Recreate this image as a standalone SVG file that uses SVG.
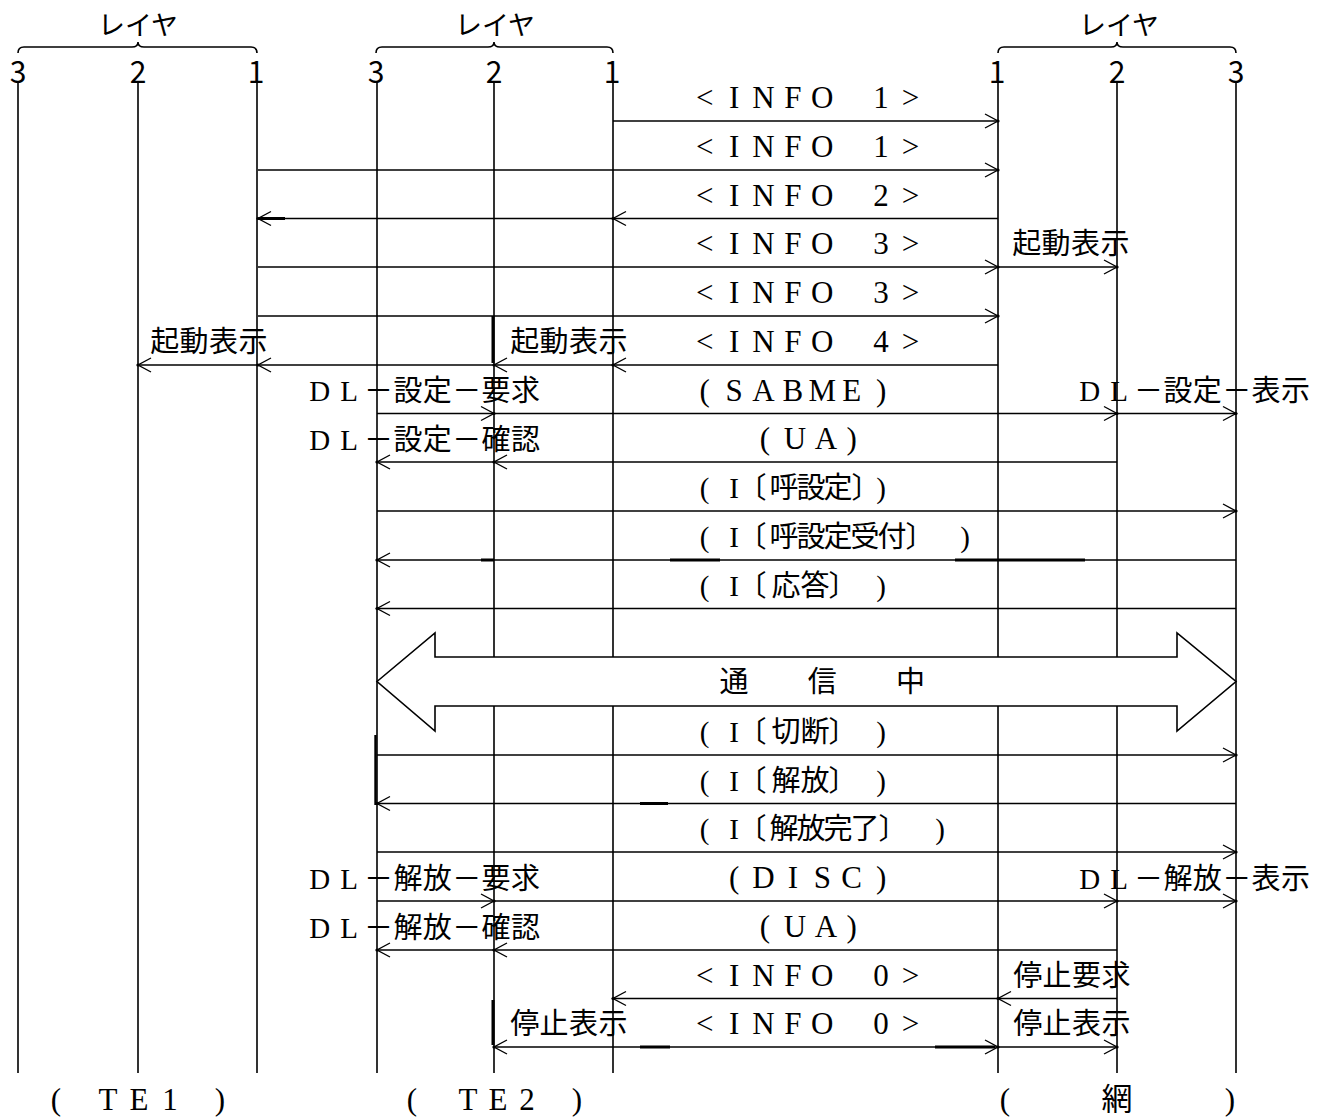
<svg xmlns="http://www.w3.org/2000/svg" width="1324" height="1120" viewBox="0 0 1324 1120">
<style>
.l{stroke:#000;stroke-width:1.6;fill:none}
.k{stroke:#000;stroke-width:3;fill:none}
.a{marker-end:url(#ah)}
text{font-family:"Liberation Serif","Noto Sans CJK JP",serif;font-size:29px;fill:#000;text-anchor:middle}
.b{font-size:31px}
.g{font-family:"Noto Sans CJK JP","Liberation Sans",sans-serif}
.d{font-family:"Noto Sans CJK JP","Liberation Sans",sans-serif;font-size:30px}
.h{font-family:"Noto Sans CJK JP",sans-serif;font-size:27px}
</style>
<defs>
<marker id="ah" markerUnits="userSpaceOnUse" viewBox="-15 -9 17 18" markerWidth="17" markerHeight="18" refX="0" refY="0" orient="auto">
<path d="M-13,-7 L0,0 L-13,7" fill="none" stroke="#000" stroke-width="1.4"/>
<circle cx="0" cy="0" r="1.6" fill="#000"/>
</marker>
</defs>
<rect width="1324" height="1120" fill="#fff"/>

<g id="te1">
<text class="h" x="138" y="35">レイヤ</text>
<path class="l" d="M18,53 Q18,47 24,47 H132 Q138,47 138,42 Q138,47 144,47 H251 Q257,47 257,53"/>
<text class="d" x="18" y="83">3</text>
<text class="d" x="138" y="83">2</text>
<text class="d" x="256" y="83">1</text>
<path class="l" d="M18,83 V1073 M138,83 V1073 M257,83 V1073"/>
<text class="b" x="56 85 108 139 170 195 220" y="1110">( TE1 )</text>
</g>

<g id="te2">
<text class="h" x="495" y="35">レイヤ</text>
<path class="l" d="M376,53 Q376,47 382,47 H488 Q494,47 494,42 Q494,47 500,47 H607 Q613,47 613,53"/>
<text class="d" x="376" y="83">3</text>
<text class="d" x="494" y="83">2</text>
<text class="d" x="612" y="83">1</text>
<path class="l" d="M377,83 V1073 M494,83 V1073 M613,83 V1073"/>
<text class="b" x="412 441 468 498 527 552 577" y="1110">( TE2 )</text>
</g>

<g id="net">
<text class="h" x="1119" y="35">レイヤ</text>
<path class="l" d="M998,53 Q998,47 1004,47 H1111 Q1117,47 1117,42 Q1117,47 1123,47 H1230 Q1236,47 1236,53"/>
<text class="d" x="997" y="83">1</text>
<text class="d" x="1117" y="83">2</text>
<text class="d" x="1236" y="83">3</text>
<path class="l" d="M998,83 V1073 M1117,83 V1073 M1236,83 V1073"/>
<text class="b" x="1005 1061 1117 1173 1230" y="1110">( 網 )</text>
</g>

<g id="connectors">
<path class="l a" d="M613,121 H998"/>
<path class="l a" d="M258,170 H998"/>
<path class="l a" d="M998,218.5 H613"/>
<path class="l a" d="M613,218.5 H258"/>
<path class="l a" d="M258,267 H998"/>
<path class="l a" d="M998,267 H1117"/>
<path class="l a" d="M258,316 H998"/>
<path class="l a" d="M998,365 H613"/>
<path class="l a" d="M613,365 H494"/>
<path class="l a" d="M494,365 H258"/>
<path class="l a" d="M258,365 H138"/>
<path class="l a" d="M377,413.5 H494"/>
<path class="l a" d="M494,413.5 H1117"/>
<path class="l a" d="M1117,413.5 H1236"/>
<path class="l a" d="M1117,462 H494"/>
<path class="l a" d="M494,462 H377"/>
<path class="l a" d="M377,511 H1236"/>
<path class="l a" d="M1236,560 H377"/>
<path class="l a" d="M1236,608.5 H377"/>
<path class="l a" d="M377,755 H1236"/>
<path class="l a" d="M1236,803.5 H377"/>
<path class="l a" d="M377,852 H1236"/>
<path class="l a" d="M377,901 H494"/>
<path class="l a" d="M494,901 H1117"/>
<path class="l a" d="M1117,901 H1236"/>
<path class="l a" d="M1117,950 H494"/>
<path class="l a" d="M494,950 H377"/>
<path class="l a" d="M1117,998.5 H998"/>
<path class="l a" d="M998,998.5 H613"/>
<path class="l a" d="M613,1047 H494"/>
<path class="l a" d="M613,1047 H998"/>
<path class="l a" d="M998,1047 H1117"/>
<path class="k" d="M260,218.5 H285 M493,316 V363 M481,560 H494 M670,560 H720 M955,560 H1085 M640,803.5 H668 M493,1000 V1045 M640,1047 H670 M935,1047 H995"/>
<path d="M375.5,735 V805" stroke="#000" stroke-width="2.4"/>
<polygon id="comm" points="377,681.5 435,633 435,657 1177,657 1177,633 1236,681.5 1177,731 1177,706 435,706 435,731" fill="#fff" stroke="#000" stroke-width="1.6"/>
</g>

<g id="labels">
<text class="b" x="704.7 734.1 763.5 792.9 822.3 851.7 881.1 910.5" y="108">&lt;INFO 1&gt;</text>
<text class="b" x="704.7 734.1 763.5 792.9 822.3 851.7 881.1 910.5" y="157">&lt;INFO 1&gt;</text>
<text class="b" x="704.7 734.1 763.5 792.9 822.3 851.7 881.1 910.5" y="205.5">&lt;INFO 2&gt;</text>
<text class="b" x="704.7 734.1 763.5 792.9 822.3 851.7 881.1 910.5" y="254">&lt;INFO 3&gt;</text>
<text class="b" x="704.7 734.1 763.5 792.9 822.3 851.7 881.1 910.5" y="303">&lt;INFO 3&gt;</text>
<text class="b" x="704.7 734.1 763.5 792.9 822.3 851.7 881.1 910.5" y="352">&lt;INFO 4&gt;</text>
<text class="b" x="704.7 734.1 763.5 792.9 822.3 851.7 881.1" y="400.5">(SABME)</text>
<text class="b" x="765 795 826 851.7" y="449">(UA)</text>
<text x="704.7 734.1 752 784 811 838 866 881" y="498">(I〔呼設定〕)</text>
<text x="704.7 734.1 752 784 811 838 865 892 920 965" y="547">(I〔呼設定受付〕)</text>
<text x="704.7 734.1 752 786 815 843 881" y="595.5">(I〔応答〕)</text>
<text class="g" x="734.1 763.5 792.9 822.3 851.7 881.1 910.5" y="692">通　　信　　中</text>
<text x="704.7 734.1 752 786 815 843 881" y="742">(I〔切断〕)</text>
<text x="704.7 734.1 752 786 815 843 881" y="790.5">(I〔解放〕)</text>
<text x="704.7 734.1 752 784 811 838 865 893 940" y="839">(I〔解放完了〕)</text>
<text class="b" x="734.1 763.5 792.9 822.3 851.7 881.1" y="888">(DISC)</text>
<text class="b" x="765 795 826 851.7" y="937">(UA)</text>
<text class="b" x="704.7 734.1 763.5 792.9 822.3 851.7 881.1 910.5" y="985.5">&lt;INFO 0&gt;</text>
<text class="b" x="704.7 734.1 763.5 792.9 822.3 851.7 881.1 910.5" y="1034">&lt;INFO 0&gt;</text>

<text class="g" x="1026.7 1056.1 1085.5 1114.9" y="254">起動表示</text>
<text class="g" x="164.7 194.1 223.5 252.9" y="352">起動表示</text>
<text class="g" x="524.7 554.1 583.5 612.9" y="352">起動表示</text>
<text x="319.7 349.1 378.5 407.9 437.3 466.7 496.1 525.5" y="401">DL－設定－要求</text>
<text x="319.7 349.1 378.5 407.9 437.3 466.7 496.1 525.5" y="450">DL－設定－確認</text>
<text x="1089.7 1119.1 1148.5 1177.9 1207.3 1236.7 1266.1 1295.5" y="401">DL－設定－表示</text>
<text x="319.7 349.1 378.5 407.9 437.3 466.7 496.1 525.5" y="889">DL－解放－要求</text>
<text x="319.7 349.1 378.5 407.9 437.3 466.7 496.1 525.5" y="938">DL－解放－確認</text>
<text x="1089.7 1119.1 1148.5 1177.9 1207.3 1236.7 1266.1 1295.5" y="889">DL－解放－表示</text>
<text class="g" x="1027.7 1057.1 1086.5 1115.9" y="985.5">停止要求</text>
<text class="g" x="1027.7 1057.1 1086.5 1115.9" y="1034">停止表示</text>
<text class="g" x="524.7 554.1 583.5 612.9" y="1034">停止表示</text>
</g>
</svg>
